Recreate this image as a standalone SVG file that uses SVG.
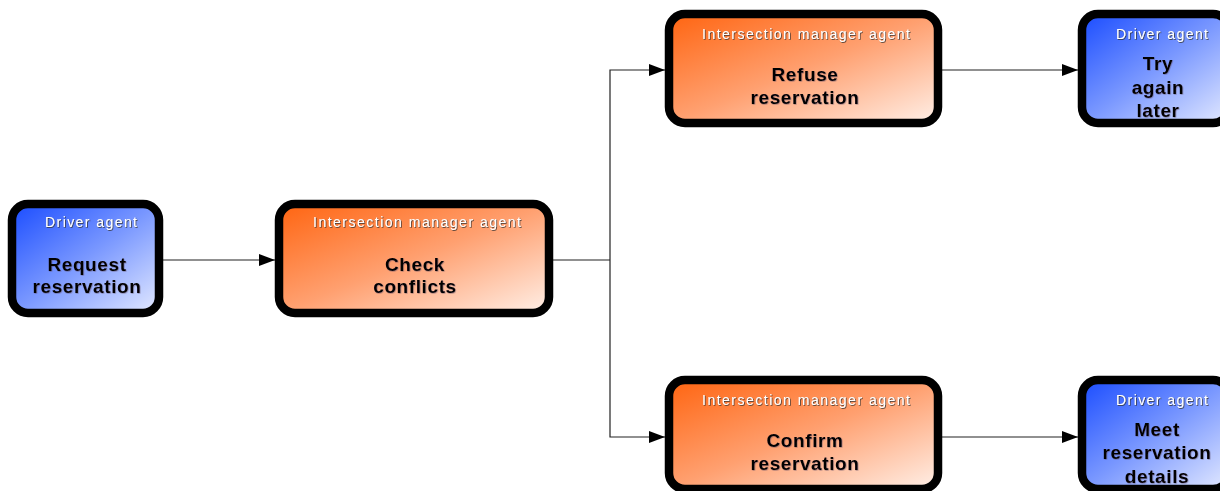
<svg xmlns="http://www.w3.org/2000/svg" width="1220" height="491" viewBox="0 0 1220 491">
  <defs>
    <linearGradient id="gBlue" x1="0" y1="0" x2="1" y2="1">
      <stop offset="0" stop-color="#1a4cff"/>
      <stop offset="0.5" stop-color="#7a98ff"/>
      <stop offset="1" stop-color="#e4eaff"/>
    </linearGradient>
    <linearGradient id="gOrange" x1="0" y1="0" x2="1" y2="1">
      <stop offset="0" stop-color="#ff6410"/>
      <stop offset="0.5" stop-color="#ffa070"/>
      <stop offset="1" stop-color="#fff0e8"/>
    </linearGradient>
    <filter id="subShadow" x="-10%" y="-30%" width="120%" height="160%">
      <feDropShadow dx="0.8" dy="0.8" stdDeviation="0.6" flood-color="#333333" flood-opacity="0.9"/>
    </filter>
    <filter id="titleGlow" x="-10%" y="-30%" width="120%" height="160%">
      <feDropShadow dx="0.6" dy="0.6" stdDeviation="0.7" flood-color="#5a4a60" flood-opacity="0.6"/>
    </filter>
    <marker id="arrow" viewBox="0 0 16 12" refX="16" refY="6" markerWidth="16" markerHeight="12" markerUnits="userSpaceOnUse" orient="auto">
      <path d="M0,0 L16,6 L0,12 Z" fill="#000"/>
    </marker>
  </defs>
  <style>
    .box { stroke: #000; stroke-width: 8.5; }
    .blue { fill: url(#gBlue); }
    .orange { fill: url(#gOrange); }
    .sub { font-family: "Liberation Sans", Arial, sans-serif; font-size: 14px; fill: #fff; text-anchor: middle; filter: url(#subShadow); }
    .title { font-family: "Liberation Sans", Arial, sans-serif; font-size: 19px; font-weight: bold; fill: #000; text-anchor: middle; letter-spacing: 0.6px; filter: url(#titleGlow); }
    .conn { fill: none; stroke: #222; stroke-width: 1.2; }
  </style>

  <rect width="1220" height="491" fill="#fff"/>

  <!-- connectors -->
  <g id="connectors">
    <path class="conn" d="M163,260 H275" marker-end="url(#arrow)"/>
    <path class="conn" d="M553,260 H610"/>
    <path class="conn" d="M610,260 V70 H665" marker-end="url(#arrow)"/>
    <path class="conn" d="M610,260 V437 H665" marker-end="url(#arrow)"/>
    <path class="conn" d="M942,70 H1078" marker-end="url(#arrow)"/>
    <path class="conn" d="M942,437 H1078" marker-end="url(#arrow)"/>
  </g>

  <!-- Driver agent: Request reservation -->
  <g id="request">
    <rect class="box blue" x="12" y="204" width="147" height="109" rx="16"/>
    <text class="sub" x="91" y="227" textLength="92" lengthAdjust="spacing">Driver agent</text>
    <text class="title" x="87" y="271">Request</text>
    <text class="title" x="87" y="293">reservation</text>
  </g>

  <!-- Intersection manager agent: Check conflicts -->
  <g id="check">
    <rect class="box orange" x="279" y="204" width="270" height="109" rx="16"/>
    <text class="sub" x="417" y="227" textLength="208" lengthAdjust="spacing">Intersection manager agent</text>
    <text class="title" x="415" y="271">Check</text>
    <text class="title" x="415" y="293">conflicts</text>
  </g>

  <!-- Intersection manager agent: Refuse reservation -->
  <g id="refuse">
    <rect class="box orange" x="669" y="14" width="269" height="109" rx="16"/>
    <text class="sub" x="806" y="39" textLength="208" lengthAdjust="spacing">Intersection manager agent</text>
    <text class="title" x="805" y="81">Refuse</text>
    <text class="title" x="805" y="104">reservation</text>
  </g>

  <!-- Driver agent: Try again later -->
  <g id="retry">
    <rect class="box blue" x="1082" y="14" width="147" height="109" rx="16"/>
    <text class="sub" x="1162" y="39" textLength="92" lengthAdjust="spacing">Driver agent</text>
    <text class="title" x="1158" y="70">Try</text>
    <text class="title" x="1158" y="94">again</text>
    <text class="title" x="1158" y="117">later</text>
  </g>

  <!-- Intersection manager agent: Confirm reservation -->
  <g id="confirm">
    <rect class="box orange" x="669" y="380" width="269" height="109" rx="16"/>
    <text class="sub" x="806" y="405" textLength="208" lengthAdjust="spacing">Intersection manager agent</text>
    <text class="title" x="805" y="447">Confirm</text>
    <text class="title" x="805" y="470">reservation</text>
  </g>

  <!-- Driver agent: Meet reservation details -->
  <g id="meet">
    <rect class="box blue" x="1082" y="380" width="147" height="109" rx="16"/>
    <text class="sub" x="1162" y="405" textLength="92" lengthAdjust="spacing">Driver agent</text>
    <text class="title" x="1157" y="436">Meet</text>
    <text class="title" x="1157" y="459">reservation</text>
    <text class="title" x="1157" y="483">details</text>
  </g>
</svg>
